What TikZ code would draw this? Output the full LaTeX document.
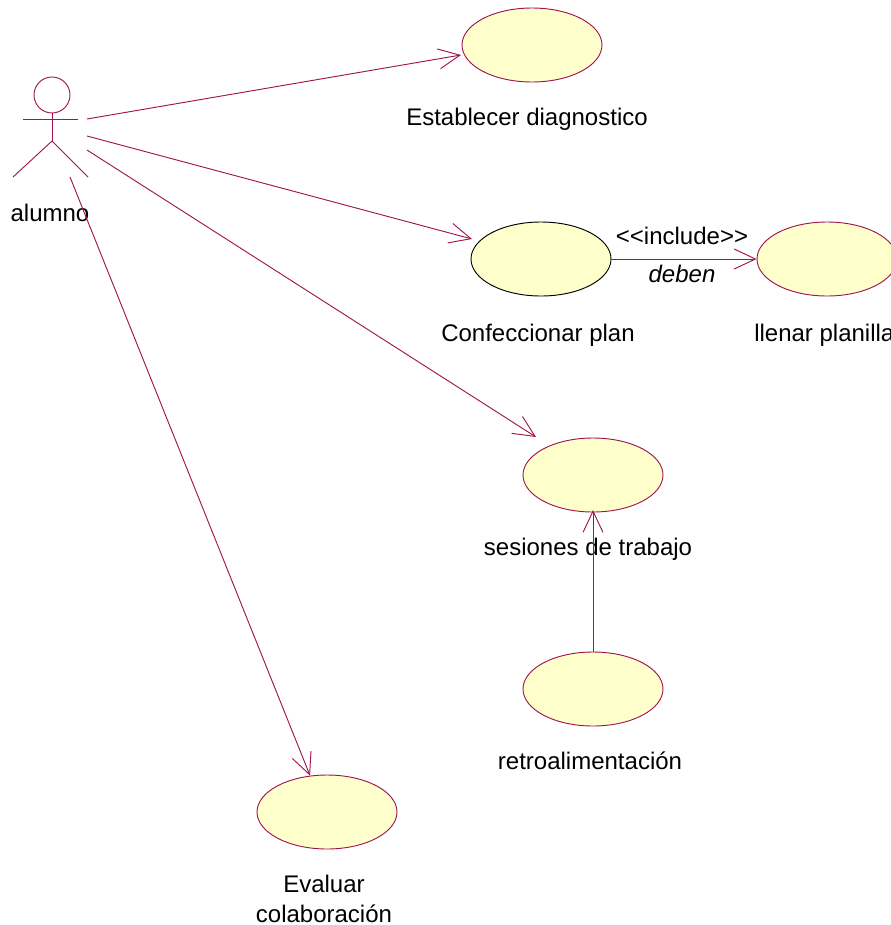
\documentclass[tikz,border=0pt]{standalone}
\usepackage{fontspec}
\setmainfont{Liberation Sans}
\usetikzlibrary{arrows.meta,shapes.geometric}
\definecolor{umlline}{RGB}{160,20,80}
\definecolor{umlfill}{RGB}{255,255,204}
\tikzset{
  usecase/.style={ellipse,draw=umlline,fill=umlfill,minimum width=105pt,minimum height=55.5pt,inner sep=0pt,line width=0.7pt},
  label/.style={font=\fontsize{18}{22.5}\selectfont,text=black,inner sep=0pt,align=center},
  link/.style={draw=umlline,line width=0.7pt},
  assoc/.style={link,-{Straight Barb[length=16pt,width=15pt,line width=0.7pt]}}
}
\begin{document}
\begin{tikzpicture}[x=0.75pt,y=-0.75pt]
\useasboundingbox (0,0) rectangle (891,925);
\node[usecase] (estab) at (532,45) {};
\node[usecase,draw=black] (conf) at (541,259) {};
\node[usecase] (llenar) at (827,259) {};
\node[usecase] (sesion) at (593,475) {};
\node[usecase] (retro) at (593,689) {};
\node[usecase] (eval) at (327,812) {};
\node[label] at (527,119) (estabtxt) {Establecer diagnostico};
\node[label] at (538,335) (conftxt) {Confeccionar plan};
\node[label,anchor=west] at (754,335) (llenartxt) {llenar planilla};
\node[label] at (588,549) (sesiontxt) {sesiones de trabajo};
\node[label] at (590,761) (retrotxt) {retroalimentación};
\node[label,text depth=0pt] at (324,899) (evaltxt) {Evaluar\\colaboración};
\node[label] at (50,213) (alumnotxt) {alumno};
\node[label] at (682,236) (inc) {{<}{<}include{>}{>}};
\node[label,font=\fontsize{18}{22.5}\selectfont\itshape] at (682,274) (deben) {deben};
% actor
\node[circle,draw=umlline,line width=0.7pt,minimum size=27pt,inner sep=0pt] (head) at (52,95) {};
\coordinate (armL) at (23,119);
\coordinate (armR) at (78,119);
\coordinate (hip) at (52,141);
\coordinate (legL) at (13,177);
\coordinate (legR) at (88,177);
\draw[link] (armL) -- (armR);
\draw[link] (head) -- (hip);
\draw[link] (legL) -- (hip) -- (legR);
% associations
\coordinate (a1) at (87,119);
\coordinate (a2) at (87,136);
\coordinate (a3) at (87,150);
\coordinate (a4) at (70,177);
\coordinate (e1) at (461,55);
\coordinate (c1) at (472,239);
\coordinate (s1) at (536,437);
\coordinate (s2) at (593,510);
\draw[assoc] (a1) -- (e1);
\draw[assoc] (a2) -- (c1);
\draw[assoc] (a3) -- (s1);
\draw[assoc] (a4) -- (eval.115);
\draw[assoc] (retro) -- (s2);
\draw[assoc] (conf) -- (llenar);
\end{tikzpicture}
\end{document}
